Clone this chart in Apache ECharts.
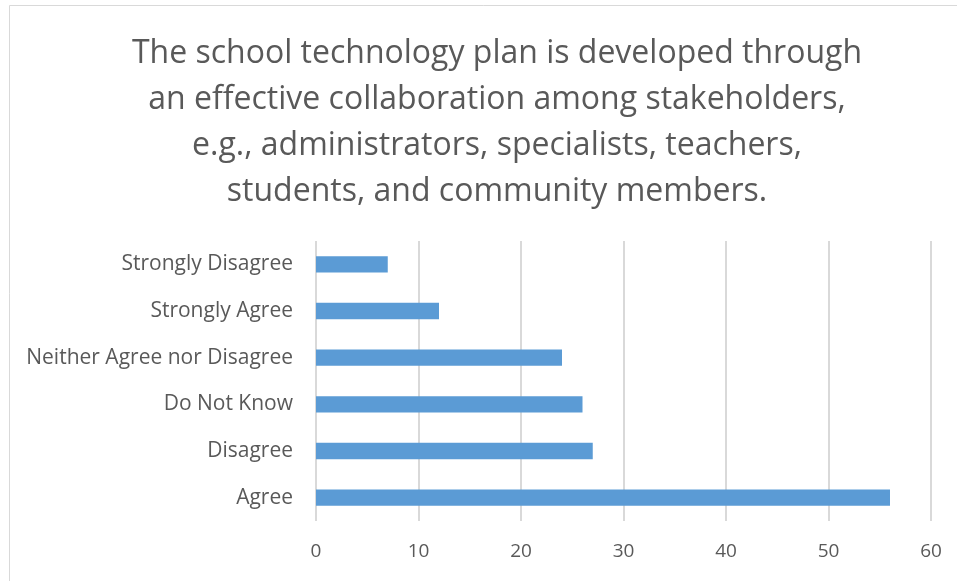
<!DOCTYPE html>
<html>
<head>
<meta charset="utf-8">
<script src="https://cdn.jsdelivr.net/npm/echarts@6/dist/echarts.min.js"></script>
<style>
  html, body { margin: 0; padding: 0; background: #ffffff; }
  #chart { width: 957px; height: 581px; }
</style>
</head>
<body>
<div id="chart"></div>
<script>
// Survey responses, listed bottom-to-top as they appear on the category axis
const categories = ['Agree', 'Disagree', 'Do Not Know', 'Neither Agree nor Disagree', 'Strongly Agree', 'Strongly Disagree'];
const counts = [56, 27, 26, 24, 12, 7];
const xTicks = { min: 0, max: 60, interval: 10 };
const titleLines = [
  'The school technology plan is developed through',
  'an effective collaboration among stakeholders,',
  'e.g., administrators, specialists, teachers,',
  'students, and community members.'
];

const FONT = '"Open Sans", "Noto Sans", sans-serif';
const chart = echarts.init(document.getElementById('chart'), null, { renderer: 'canvas' });

chart.setOption({
  backgroundColor: '#ffffff',
  animation: false,
  graphic: [{
    type: 'rect',
    shape: { x: 9.5, y: 5.5, width: 1000, height: 1000 },
    style: { fill: 'none', stroke: '#d9d9d9', lineWidth: 1 },
    silent: true
  }],
  title: {
    text: titleLines.join('\n'),
    left: 492,
    textAlign: 'center',
    top: 26,
    textStyle: {
      fontFamily: FONT,
      fontSize: 32,
      fontWeight: 'normal',
      color: '#595959',
      lineHeight: 46
    }
  },
  grid: { left: 316, right: 26, top: 241, bottom: 60, containLabel: false },
  xAxis: {
    type: 'value',
    min: xTicks.min,
    max: xTicks.max,
    interval: xTicks.interval,
    axisLine: { show: false },
    axisTick: { show: false },
    axisLabel: { color: '#595959', fontFamily: FONT, fontSize: 19, margin: 21 },
    splitLine: { show: true, lineStyle: { color: '#d9d9d9', width: 2 } }
  },
  yAxis: {
    type: 'category',
    data: categories,
    axisLine: { show: false },
    axisTick: { show: false },
    axisLabel: { color: '#595959', fontFamily: FONT, fontSize: 21, margin: 23 }
  },
  series: [{
    type: 'bar',
    data: counts,
    barWidth: '35%',
    itemStyle: { color: '#5b9bd5' }
  }]
});
</script>
</body>
</html>
